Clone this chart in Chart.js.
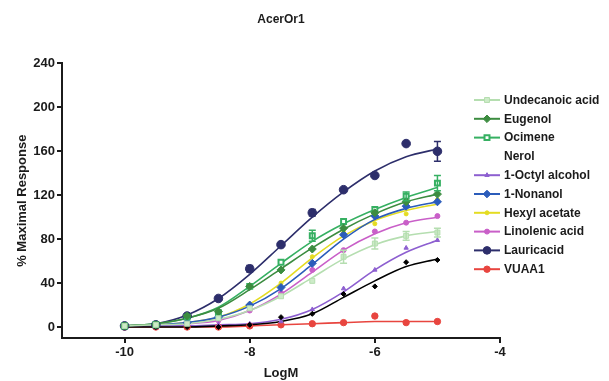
<!DOCTYPE html>
<html>
<head>
<meta charset="utf-8">
<script src="https://cdn.jsdelivr.net/npm/chart.js@4"></script>
<style>
  html, body { margin: 0; padding: 0; background: #fff; }
  #wrap { width: 609px; height: 381px; }
</style>
</head>
<body>
<div id="wrap"><canvas id="doseChart" width="609" height="381"></canvas></div>
<script>
// concentrations (log M) and axis ticks
const logM = [-10, -9.5, -9, -8.5, -8, -7.5, -7, -6.5, -6, -5.5, -5];
const xTicks = [-10, -8, -6, -4];
const yTicks = [0, 40, 80, 120, 160, 200, 240];

// measured responses (% of max) and fitted curve values at each concentration
const undecanoicPts = [1, 2, 3, 8, 17, 28, 42, 64, 76, 83, 86];
const undecanoicFit = [1, 2, 3, 7, 15, 28, 45, 62, 75, 83, 87];
const undecanoicErr = [0, 0, 0, 0, 0, 0, 0, 6, 5, 4, 4];
const eugenolPts = [1, 2, 10, 14, 37, 52, 71, 90, 104, 114, 121];
const eugenolFit = [1, 3, 8, 17, 34, 53, 72, 89, 103, 114, 121];
const ocimenePts = [1, 2, 9, 13, 37, 59, 83, 96, 107, 119, 131];
const ocimeneFit = [1, 3, 8, 18, 37, 58, 78, 94, 107, 118, 127];
const ocimeneErr = [0, 0, 0, 0, 0, 0, 5, 0, 0, 4, 7];
const nerolPts = [0, 0, 0, 0, 2, 9, 12, 30, 37, 59, 61];
const nerolFit = [0, 0, 0, 1, 2, 5, 12, 27, 42, 55, 62];
const octylPts = [1, 2, 2, 2, 3, 5, 16, 35, 52, 72, 79];
const octylFit = [1, 1, 1, 2, 3, 7, 16, 32, 52, 68, 79];
const nonanolPts = [1, 2, 4, 9, 20, 36, 58, 84, 101, 110, 114];
const nonanolFit = [1, 2, 4, 9, 19, 35, 57, 80, 98, 108, 114];
const hexylPts = [1, 2, 3, 9, 21, 40, 64, 86, 94, 103, 116];
const hexylFit = [1, 2, 4, 9, 21, 40, 63, 83, 97, 106, 112];
const linolenicPts = [1, 2, 3, 6, 15, 31, 52, 70, 87, 95, 101];
const linolenicFit = [1, 2, 3, 6, 15, 30, 50, 70, 85, 95, 100];
const lauricPts = [1, 2, 10, 26, 53, 75, 104, 125, 138, 167, 160];
const lauricFit = [1, 3, 11, 26, 48, 74, 100, 123, 142, 155, 162];
const lauricErr = [0, 0, 0, 0, 3, 0, 3, 0, 0, 0, 9];
const vuaaPts = [0, 0, 0, 0, 1, 2, 3, 4, 10, 4, 5];
const vuaaFit = [0, 0, 0, 0, 1, 2, 3, 4, 5, 5, 5];

const series = [
  { label: "Undecanoic acid", pts: undecanoicPts, fit: undecanoicFit, err: undecanoicErr,
    color: "#b5deb0", fill: "#cdebc8", style: "rect", r: 3.5 },
  { label: "Eugenol", pts: eugenolPts, fit: eugenolFit,
    color: "#3c8c40", fill: "#3c8c40", style: "rectRot", r: 4 },
  { label: "Ocimene", pts: ocimenePts, fit: ocimeneFit, err: ocimeneErr,
    color: "#36b062", fill: "#ffffff", style: "rect", r: 3.5, bw: 2 },
  { label: "Nerol", pts: nerolPts, fit: nerolFit,
    color: "#000000", fill: "#000000", style: "rectRot", r: 2.5, noKey: true },
  { label: "1-Octyl alcohol", pts: octylPts, fit: octylFit,
    color: "#8d5fd0", fill: "#8d5fd0", style: "triangle", r: 2.5 },
  { label: "1-Nonanol", pts: nonanolPts, fit: nonanolFit,
    color: "#2b5cba", fill: "#2b5cba", style: "rectRot", r: 4 },
  { label: "Hexyl acetate", pts: hexylPts, fit: hexylFit,
    color: "#e4dc22", fill: "#e4dc22", style: "circle", r: 2 },
  { label: "Linolenic acid", pts: linolenicPts, fit: linolenicFit,
    color: "#c95fc8", fill: "#c95fc8", style: "circle", r: 2.5 },
  { label: "Lauricacid", pts: lauricPts, fit: lauricFit, err: lauricErr,
    color: "#2d2e6b", fill: "#2d2e6b", style: "circle", r: 4.3 },
  { label: "VUAA1", pts: vuaaPts, fit: vuaaFit,
    color: "#e8453f", fill: "#e8453f", style: "circle", r: 3.2 },
];

const toXY = (vals) => vals.map((v, i) => ({ x: logM[i], y: v }));

// fitted curves sit behind the markers; earlier series' markers are on top
const datasets = [];
series.forEach((s, i) => {
  datasets.push({
    label: s.label + " fit",
    data: toXY(s.fit),
    showLine: true,
    cubicInterpolationMode: "monotone",
    borderColor: s.color,
    borderWidth: 1.6,
    pointRadius: 0,
    order: 20 + i,
  });
  datasets.push({
    label: s.label,
    data: toXY(s.pts),
    showLine: false,
    pointStyle: s.style,
    pointRadius: s.r,
    pointBackgroundColor: s.fill,
    pointBorderColor: s.color,
    pointBorderWidth: s.bw || 1,
    errors: s.err,
    order: i,
  });
});

const txt = "#1b1b1b";
const boldFont = (size) => ({ family: "'Liberation Sans', Arial, sans-serif", size: size, weight: "bold" });

// vertical error bars with caps
const errorBars = {
  id: "errorBars",
  afterDatasetsDraw(chart) {
    const { ctx, scales } = chart;
    chart.data.datasets.forEach((ds) => {
      if (!ds.errors) return;
      ctx.save();
      ctx.strokeStyle = ds.pointBorderColor;
      ctx.lineWidth = 1.5;
      ds.data.forEach((p, i) => {
        const e = ds.errors[i];
        if (!e) return;
        const x = scales.x.getPixelForValue(p.x);
        const y1 = scales.y.getPixelForValue(p.y + e);
        const y2 = scales.y.getPixelForValue(p.y - e);
        ctx.beginPath();
        ctx.moveTo(x, y1); ctx.lineTo(x, y2);
        ctx.moveTo(x - 3.5, y1); ctx.lineTo(x + 3.5, y1);
        ctx.moveTo(x - 3.5, y2); ctx.lineTo(x + 3.5, y2);
        ctx.stroke();
      });
      ctx.restore();
    });
  },
};

// legend on the right: short line with marker, then the name
const sideLegend = {
  id: "sideLegend",
  afterDraw(chart) {
    const { ctx } = chart;
    const x0 = 474, x1 = 500, tx = 504, top = 100, step = 18.8;
    ctx.save();
    ctx.font = "bold 12px 'Liberation Sans', Arial, sans-serif";
    ctx.textBaseline = "middle";
    series.forEach((s, i) => {
      const y = top + i * step;
      if (!s.noKey) {
        ctx.strokeStyle = s.color;
        ctx.lineWidth = 2;
        ctx.beginPath();
        ctx.moveTo(x0, y); ctx.lineTo(x1, y);
        ctx.stroke();
        ctx.fillStyle = s.fill;
        ctx.strokeStyle = s.color;
        ctx.lineWidth = s.bw || 1;
        Chart.helpers.drawPoint(ctx, {
          pointStyle: s.style, radius: Math.min(s.r, 3.8), borderWidth: s.bw || 1, rotation: 0,
        }, (x0 + x1) / 2, y);
      }
      ctx.fillStyle = txt;
      ctx.fillText(s.label, tx, y + 0.5);
    });
    ctx.restore();
  },
};

Chart.defaults.font.family = "'Liberation Sans', Arial, sans-serif";
Chart.defaults.color = txt;

new Chart(document.getElementById("doseChart").getContext("2d"), {
  type: "scatter",
  data: { datasets: datasets },
  options: {
    responsive: false,
    animation: false,
    layout: { padding: { left: 10, right: 109, top: 0, bottom: 0 } },
    plugins: {
      legend: { display: false },
      tooltip: { enabled: false },
      title: {
        display: true,
        text: "AcerOr1",
        fullSize: false,
        color: txt,
        font: boldFont(12),
        padding: { top: 12, bottom: 37 },
      },
    },
    scales: {
      x: {
        type: "linear",
        min: -11,
        max: -4,
        afterBuildTicks: (axis) => { axis.ticks = xTicks.map((v) => ({ value: v })); },
        afterFit: (axis) => { axis.height = 43; },
        border: { display: true, color: txt, width: 2 },
        grid: { display: true, drawOnChartArea: false, drawTicks: true, tickLength: 5, color: txt, lineWidth: 2 },
        ticks: { color: txt, font: boldFont(13), padding: 2, maxRotation: 0 },
        title: { display: true, text: "LogM", color: txt, font: boldFont(13), padding: { top: 0, bottom: 0 } },
      },
      y: {
        min: -10,
        max: 240,
        afterBuildTicks: (axis) => { axis.ticks = yTicks.map((v) => ({ value: v })); },
        afterFit: (axis) => { axis.width = 52; },
        border: { display: true, color: txt, width: 2 },
        grid: { display: true, drawOnChartArea: false, drawTicks: true, tickLength: 5, color: txt, lineWidth: 2 },
        ticks: { color: txt, font: boldFont(13), padding: 2 },
        title: { display: true, text: "% Maximal Response", color: txt, font: boldFont(13), padding: { top: 5, bottom: 0 } },
      },
    },
  },
  plugins: [errorBars, sideLegend],
});
</script>
</body>
</html>
